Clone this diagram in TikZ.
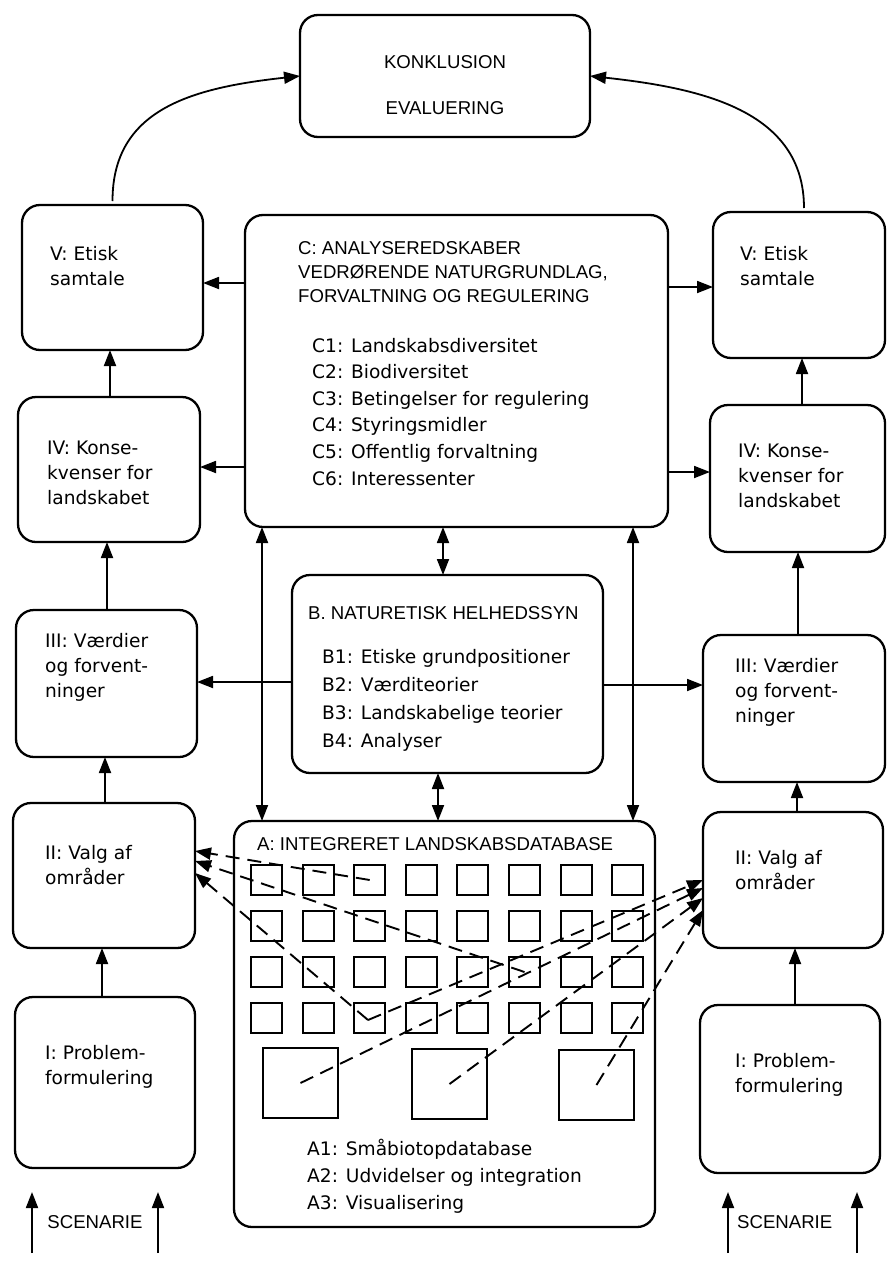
\documentclass[tikz,border=0pt]{standalone}
\usepackage{fontspec}
\setmainfont{DejaVu Sans}
\newfontfamily\capfont{Liberation Sans}
\usetikzlibrary{arrows.meta}
\newcommand{\mybox}[5]{\node[box, minimum width={(#4-#2)*1pt}, minimum height={(#5-#3)*1pt}] (#1) at (#2,#3) {};}
\begin{document}
\begin{tikzpicture}[x=1pt,y=-1pt,
  box/.style={draw, line width=2.3pt, rounded corners=18pt, anchor=north west, inner sep=0pt, outer sep=0pt},
  lbl/.style={anchor=base west, align=left, inner sep=0pt, font=\fontsize{18.6}{25}\selectfont},
  captxt/.style={anchor=base west, align=left, inner sep=0pt, font=\capfont\fontsize{18.6}{24}\selectfont},
  arr/.style={line width=1.8pt, -{Triangle[length=16pt,width=12pt]}},
  darr/.style={line width=1.8pt, {Triangle[length=16pt,width=12pt]}-{Triangle[length=16pt,width=12pt]}},
  dsh/.style={line width=1.9pt, dash pattern=on 14pt off 8pt, -{Triangle[length=16pt,width=12pt]}},
  sq/.style={draw, line width=2.1pt, anchor=north west, minimum width=31pt, minimum height=30pt, inner sep=0pt, outer sep=0pt},
  bsq/.style={draw, line width=2.1pt, anchor=north west, minimum width=75pt, minimum height=70pt, inner sep=0pt, outer sep=0pt}
]
\useasboundingbox[fill=white] (0,0) rectangle (888,1261);

% boxes
\mybox{K}{300}{15}{590}{137}
\mybox{Vl}{22}{205}{203}{350}
\mybox{IVl}{18}{397}{200}{542}
\mybox{IIIl}{16}{610}{197}{757}
\mybox{IIl}{13}{803}{195}{948}
\mybox{Il}{15}{997}{195}{1168}
\mybox{Vr}{713}{212}{885}{358}
\mybox{IVr}{710}{405}{885}{552}
\mybox{IIIr}{703}{635}{885}{782}
\mybox{IIr}{703}{812}{883}{948}
\mybox{Ir}{700}{1005}{880}{1173}
\mybox{C}{245}{215}{668}{527}
\mybox{B}{292}{575}{603}{773}
\mybox{A}{234}{821}{655}{1227}

% texts
\node[captxt, anchor=base] (tK1) at (445,68) {KONKLUSION};
\node[captxt, anchor=base] (tK2) at (445,114) {EVALUERING};
\node[lbl] (tVl) at (50,285) {V: Etisk\\samtale};
\node[lbl] (tIVl) at (47,504) {IV: Konse-\\kvenser for\\landskabet};
\node[lbl] (tIIIl) at (45,697) {III: Værdier\\og forvent-\\ninger};
\node[lbl] (tIIl) at (45,884) {II: Valg af\\områder};
\node[lbl] (tIl) at (45,1084) {I: Problem-\\formulering};
\node[lbl] (tVr) at (740,285) {V: Etisk\\samtale};
\node[lbl] (tIVr) at (738,507) {IV: Konse-\\kvenser for\\landskabet};
\node[lbl] (tIIIr) at (735,722) {III: Værdier\\og forvent-\\ninger};
\node[lbl] (tIIr) at (735,889) {II: Valg af\\områder};
\node[lbl] (tIr) at (735,1092) {I: Problem-\\formulering};
\node[captxt] (tC) at (298,302) {C: ANALYSEREDSKABER\\VEDRØRENDE NATURGRUNDLAG,\\FORVALTNING OG REGULERING};
\node[lbl, font=\fontsize{18.6}{26.6}\selectfont] (tC1) at (312,485) {C1: Landskabsdiversitet\\C2: Biodiversitet\\C3: Betingelser for regulering\\C4: Styringsmidler\\C5: Offentlig forvaltning\\C6: Interessenter};
\node[captxt] (tB) at (308,619) {B. NATURETISK HELHEDSSYN};
\node[lbl, font=\fontsize{18.6}{27.7}\selectfont] (tB1) at (322,747) {B1: Etiske grundpositioner\\B2: Værditeorier\\B3: Landskabelige teorier\\B4: Analyser};
\node[captxt] (tA) at (257,850) {A: INTEGRERET LANDSKABSDATABASE};
\node[lbl, font=\fontsize{18.6}{27}\selectfont] (tA1) at (307,1209) {A1: Småbiotopdatabase\\A2: Udvidelser og integration\\A3: Visualisering};
\node[captxt, anchor=base] (scL) at (95,1228) {SCENARIE};
\node[captxt] (scR) at (737,1228) {SCENARIE};

% grid of squares
\foreach \r [count=\ri] in {865,911,957,1003} {
  \foreach \c in {0,...,7} {
    \node[sq] (s\ri-\c) at ({251+51.6*\c},\r) {};
  }
}
\node[bsq] (b1) at (263,1048) {};
\node[bsq] (b2) at (412,1049) {};
\node[bsq] (b3) at (559,1050) {};

% curves to conclusion
\draw[arr] ([yshift=4pt]Vl.north) .. controls (112.5,110) and (190,88) .. (K.west);
\draw[arr] ([xshift=5pt,yshift=4pt]Vr.north) .. controls (804,110) and (700,88) .. (K.east);

% column arrows
\draw[arr] (IVl.north -| 110,0) -- (Vl.south -| 110,0);
\draw[arr] (IIIl.north -| 107,0) -- (IVl.south -| 107,0);
\draw[arr] (IIl.north -| 105,0) -- (IIIl.south -| 105,0);
\draw[arr] (Il.north -| 102,0) -- (IIl.south -| 102,0);
\draw[arr] (IVr.north -| 802,0) -- (Vr.south -| 802,0);
\draw[arr] (IIIr.north -| 798,0) -- (IVr.south -| 798,0);
\draw[arr] (IIr.north -| 797,0) -- (IIIr.south -| 797,0);
\draw[arr] (Ir.north -| 795,0) -- (IIr.south -| 795,0);

% from C and B
\draw[arr] (C.west |- 0,283) -- (Vl.east |- 0,283);
\draw[arr] (C.west |- 0,467) -- (IVl.east |- 0,467);
\draw[arr] (C.east |- 0,287) -- (Vr.west |- 0,287);
\draw[arr] (C.east |- 0,472) -- (IVr.west |- 0,472);
\draw[arr] (B.west |- 0,682) -- (IIIl.east |- 0,682);
\draw[arr] (B.east |- 0,685) -- (IIIr.west |- 0,685);

% vertical double arrows
\draw[darr] (C.south -| 262,0) -- (A.north -| 262,0);
\draw[darr] (C.south -| 633,0) -- (A.north -| 633,0);
\draw[darr] (C.south -| 443,0) -- (B.north -| 443,0);
\draw[darr] (B.south -| 438,0) -- (A.north -| 438,0);

% dashed selection lines
\coordinate (vp) at (368,1020);
\draw[dsh] (s1-2.center) -- (IIl.east |- 0,851);
\draw[dsh] (s3-5.center) -- (IIl.east |- 0,861);
\draw[dsh] (vp) -- (IIl.east |- 0,873);
\draw[dsh] (vp) -- (IIr.west |- 0,880);
\draw[dsh] (b1.center) -- (IIr.west |- 0,888);
\draw[dsh] (b2.center) -- (IIr.west |- 0,898);
\draw[dsh] (b3.center) -- (IIr.west |- 0,910);

% scenario arrows
\coordinate (sa1) at (32,1253); \coordinate (sa1t) at (32,1192);
\coordinate (sa2) at (158,1253); \coordinate (sa2t) at (158,1192);
\coordinate (sa3) at (728,1253); \coordinate (sa3t) at (728,1192);
\coordinate (sa4) at (857,1253); \coordinate (sa4t) at (857,1192);
\draw[arr] (sa1) -- (sa1t);
\draw[arr] (sa2) -- (sa2t);
\draw[arr] (sa3) -- (sa3t);
\draw[arr] (sa4) -- (sa4t);
\end{tikzpicture}
\end{document}
